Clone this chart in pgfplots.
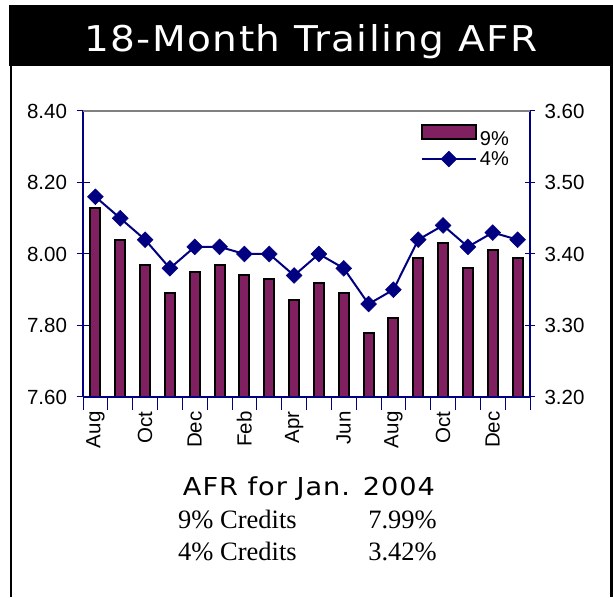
\documentclass[border=0pt]{standalone}
\usepackage{fontspec}
\setmainfont{Liberation Sans}
\newfontfamily\titlefont[FakeStretch=1.1, LetterSpace=4]{DejaVu Sans}
\newfontfamily\timesfont{Liberation Serif}
\usepackage{pgfplots}
\pgfplotsset{compat=1.18}
\definecolor{afrpurple}{RGB}{128,32,96}
\definecolor{afrnavy}{RGB}{0,0,128}
\pgfplotsset{linelegend/.style={legend image code/.code={\draw[mark repeat=2,mark phase=2,##1] plot coordinates {(0pt,0pt) (27pt,0pt) (54pt,0pt)};}}}

\begin{document}
\begin{tikzpicture}[x=1pt,y=1pt]
\path (0,0) rectangle (613,597);
\fill[black] (9,531) rectangle (613,592);
\fill[black] (10,0) rectangle (12,531);
\fill[black] (610,0) rectangle (613,531);
\node[text=white, font=\titlefont\fontsize{35.5}{35.5}\selectfont, anchor=base, inner sep=0pt] at (311,545) {18-Month Trailing AFR};

\begin{axis}[
 at={(83pt,200pt)}, anchor=south west, width=447pt, height=286pt, scale only axis,
 xmin=-0.5, xmax=17.5, ymin=7.6, ymax=8.4,
 axis line style={draw=none},
 xtick={-0.5,0.5,...,17.5}, xticklabels={},
 extra x ticks={0,2,...,16},
 extra x tick labels={Aug,Oct,Dec,Feb,Apr,Jun,Aug,Oct,Dec},
 extra x tick style={major tick length=0pt, tick label style={yshift=-11pt, rotate=90, anchor=east}},
 xtick pos=bottom, ytick pos=left,
 ytick={7.6,7.8,8.0,8.2,8.4},
 y tick label style={xshift=-6pt, /pgf/number format/.cd, fixed, fixed zerofill, precision=2},
 tick align=center, major tick length=13pt,
 tick style={afrnavy, line width=1pt},
 ticklabel style={font=\fontsize{20.5}{20.5}\selectfont},
 /pgf/number format/assume math mode=true,
 ybar, bar width=10pt,
]
\addplot[fill=afrpurple, draw=black, line width=2pt] coordinates {
(0,8.13) (1,8.04) (2,7.97) (3,7.89) (4,7.95) (5,7.97) (6,7.94) (7,7.93) (8,7.87)
(9,7.92) (10,7.89) (11,7.78) (12,7.82) (13,7.99) (14,8.03) (15,7.96) (16,8.01) (17,7.99)};
\end{axis}

\begin{axis}[
 at={(83pt,200pt)}, anchor=south west, width=447pt, height=286pt, scale only axis,
 xmin=-0.5, xmax=17.5, ymin=3.2, ymax=3.6,
 axis line style={draw=none},
 xtick=\empty, ytick pos=right, yticklabel pos=right,
 ytick={3.2,3.3,3.4,3.5,3.6},
 y tick label style={xshift=6pt, /pgf/number format/.cd, fixed, fixed zerofill, precision=2},
 tick align=center, major tick length=10pt,
 tick style={afrnavy, line width=1pt},
 ticklabel style={font=\fontsize{20.5}{20.5}\selectfont},
 /pgf/number format/assume math mode=true,
 clip=false,
 legend style={at={(0.953,0.955)}, anchor=north east, draw=none, fill=none,
   font=\fontsize{20}{20}\selectfont, row sep=3pt, inner sep=0pt,
   nodes={inner sep=0pt, text height=14.5pt, text depth=2.5pt},
   /tikz/every odd column/.append style={column sep=3pt}},
]
\addlegendimage{legend image code/.code={\draw[fill=afrpurple,draw=black,line width=2pt] (0pt,0pt) rectangle (54pt,14pt);}}
\addlegendentry{9\%}
\addplot[afrnavy, line width=2pt, mark=square*, mark size=5.6pt, mark options={rotate=45, fill=afrnavy, line width=0.5pt}, linelegend] coordinates {
(0,3.48) (1,3.45) (2,3.42) (3,3.38) (4,3.41) (5,3.41) (6,3.40) (7,3.40) (8,3.37)
(9,3.40) (10,3.38) (11,3.33) (12,3.35) (13,3.42) (14,3.44) (15,3.41) (16,3.43) (17,3.42)};
\addlegendentry{4\%}
\draw[afrnavy, line width=1.2pt] (rel axis cs:0,0) -- (rel axis cs:1,0);
\draw[afrnavy, line width=1.2pt] (rel axis cs:0,0) -- (rel axis cs:0,1);
\draw[afrnavy, line width=1.2pt] (rel axis cs:1,0) -- (rel axis cs:1,1);
\draw[gray, line width=1.2pt] (rel axis cs:0,1) -- (rel axis cs:1,1);
\end{axis}

\node[font=\titlefont\fontsize{24.7}{24.7}\selectfont, anchor=base, inner sep=0pt] at (309,101) {AFR for Jan. 2004};
\node[font=\timesfont\fontsize{26.5}{26.5}\selectfont, anchor=base west, inner sep=0pt] at (178,68) {9\% Credits};
\node[font=\timesfont\fontsize{26.5}{26.5}\selectfont, anchor=base east, inner sep=0pt] at (437,68) {7.99\%};
\node[font=\timesfont\fontsize{26.5}{26.5}\selectfont, anchor=base west, inner sep=0pt] at (178,36) {4\% Credits};
\node[font=\timesfont\fontsize{26.5}{26.5}\selectfont, anchor=base east, inner sep=0pt] at (437,36) {3.42\%};
\end{tikzpicture}
\end{document}
